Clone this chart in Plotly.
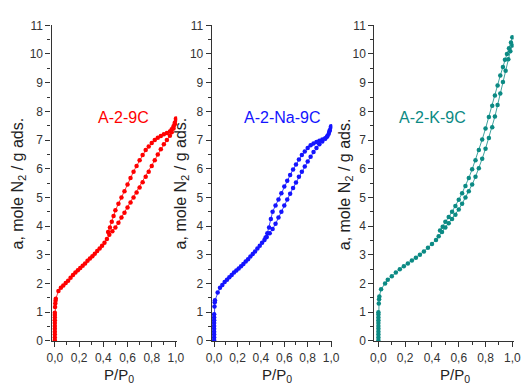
import plotly.graph_objects as go

# ---------------- data ----------------
samples = ["A-2-9C", "A-2-Na-9C", "A-2-K-9C"]
colors = ["#ff0000", "#1414ff", "#0b8a84"]

# A-2-9C
ads1_x = [0, 0, 0, 0, 0, 0, 0, 0, 0, 0, 0, 0.002, 0.004, 0.006, 0.008, 0.03, 0.05, 0.07, 0.09, 0.11,
          0.13, 0.15, 0.17, 0.19, 0.21, 0.23, 0.25, 0.27, 0.29, 0.31, 0.33, 0.35, 0.37, 0.39, 0.41, 0.43,
          0.45, 0.475, 0.5, 0.525, 0.55, 0.575, 0.6, 0.625, 0.65, 0.675, 0.7, 0.725, 0.75, 0.775, 0.8,
          0.825, 0.85, 0.875, 0.9, 0.925, 0.95, 0.965, 0.98, 0.99, 1.0]
ads1_y = [0.02, 0.12, 0.22, 0.32, 0.42, 0.52, 0.62, 0.72, 0.82, 0.9, 0.98, 1.18, 1.3, 1.4, 1.47, 1.74,
          1.85, 1.93, 2.02, 2.1, 2.2, 2.3, 2.38, 2.46, 2.54, 2.62, 2.7, 2.79, 2.87, 2.95, 3.04, 3.13,
          3.22, 3.32, 3.42, 3.55, 3.7, 3.82, 3.95, 4.12, 4.3, 4.47, 4.65, 4.82, 5.0, 5.17, 5.35, 5.53,
          5.72, 5.9, 6.1, 6.3, 6.5, 6.68, 6.85, 7.0, 7.15, 7.27, 7.4, 7.55, 7.7]
des1_x = [1.0, 0.99, 0.98, 0.965, 0.95, 0.925, 0.9, 0.875, 0.85, 0.825, 0.8, 0.775, 0.75, 0.725, 0.7,
          0.675, 0.65, 0.625, 0.6, 0.575, 0.55, 0.525, 0.5, 0.485, 0.47, 0.455, 0.44]
des1_y = [7.75, 7.6, 7.48, 7.38, 7.3, 7.25, 7.2, 7.14, 7.08, 7.0, 6.9, 6.78, 6.65, 6.48, 6.3, 6.1, 5.9,
          5.68, 5.45, 5.22, 5.0, 4.78, 4.55, 4.35, 4.15, 3.95, 3.8]

# A-2-Na-9C
ads2_x = [0, 0, 0, 0, 0, 0, 0, 0, 0, 0, 0.003, 0.005, 0.007, 0.03, 0.05, 0.07, 0.09, 0.11, 0.13, 0.15,
          0.17, 0.19, 0.21, 0.23, 0.25, 0.27, 0.29, 0.31, 0.33, 0.35, 0.37, 0.39, 0.41, 0.43, 0.45,
          0.475, 0.5, 0.525, 0.55, 0.575, 0.6, 0.625, 0.65, 0.675, 0.7, 0.725, 0.75, 0.775, 0.8, 0.825,
          0.85, 0.875, 0.9, 0.925, 0.95, 0.97, 0.985, 1.0]
ads2_y = [0.02, 0.12, 0.22, 0.32, 0.42, 0.52, 0.62, 0.72, 0.82, 0.93, 1.2, 1.35, 1.42, 1.69, 1.85, 1.95,
          2.05, 2.13, 2.22, 2.3, 2.38, 2.45, 2.52, 2.6, 2.68, 2.77, 2.85, 2.94, 3.03, 3.12, 3.22, 3.32,
          3.42, 3.52, 3.62, 3.75, 3.9, 4.08, 4.3, 4.5, 4.72, 4.93, 5.13, 5.33, 5.52, 5.72, 5.9, 6.08,
          6.25, 6.42, 6.58, 6.72, 6.85, 6.95, 7.05, 7.15, 7.3, 7.45]
des2_x = [1.0, 0.99, 0.98, 0.965, 0.95, 0.925, 0.9, 0.875, 0.85, 0.825, 0.8, 0.775, 0.75, 0.725, 0.7,
          0.675, 0.65, 0.625, 0.6, 0.575, 0.55, 0.525, 0.5, 0.485, 0.47, 0.455, 0.44]
des2_y = [7.48, 7.35, 7.22, 7.12, 7.06, 7.02, 6.98, 6.93, 6.88, 6.82, 6.72, 6.6, 6.48, 6.32, 6.15, 5.97,
          5.78, 5.58, 5.38, 5.15, 4.93, 4.72, 4.5, 4.25, 3.95, 3.75, 3.6]

# A-2-K-9C
ads3_x = [0, 0, 0, 0, 0, 0, 0, 0, 0, 0, 0, 0.003, 0.005, 0.007, 0.02, 0.05, 0.07, 0.1, 0.13, 0.16, 0.19,
          0.22, 0.25, 0.28, 0.31, 0.34, 0.37, 0.4, 0.43, 0.45, 0.475, 0.5, 0.525, 0.55, 0.575, 0.6,
          0.625, 0.65, 0.675, 0.7, 0.725, 0.75, 0.775, 0.8, 0.825, 0.85, 0.87, 0.89, 0.91, 0.93, 0.95,
          0.97, 0.985, 1.0]
ads3_y = [0.02, 0.12, 0.22, 0.32, 0.42, 0.52, 0.62, 0.72, 0.82, 0.92, 1.0, 1.3, 1.45, 1.55, 1.8, 2.0,
          2.13, 2.25, 2.38, 2.5, 2.6, 2.7, 2.8, 2.9, 3.0, 3.12, 3.25, 3.38, 3.52, 3.65, 3.8, 3.95, 4.1,
          4.25, 4.4, 4.58, 4.78, 5.0, 5.22, 5.45, 5.72, 6.02, 6.35, 6.7, 7.07, 7.45, 7.82, 8.22, 8.62,
          9.02, 9.42, 9.82, 10.1, 10.3]
des3_x = [1.0, 0.99, 0.975, 0.96, 0.945, 0.93, 0.91, 0.89, 0.87, 0.85, 0.825, 0.8, 0.775, 0.75, 0.725,
          0.7, 0.675, 0.65, 0.625, 0.6, 0.575, 0.55, 0.525, 0.5, 0.48, 0.46]
des3_y = [10.58, 10.4, 10.2, 10.0, 9.8, 9.55, 9.25, 8.9, 8.55, 8.2, 7.8, 7.4, 7.02, 6.65, 6.3, 5.98,
          5.68, 5.4, 5.15, 4.92, 4.7, 4.5, 4.32, 4.15, 3.98, 3.85]

ads_x = [ads1_x, ads2_x, ads3_x]
ads_y = [ads1_y, ads2_y, ads3_y]
des_x = [des1_x, des2_x, des3_x]
des_y = [des1_y, des2_y, des3_y]

y_ticks = list(range(0, 12))
x_ticks = [0.0, 0.2, 0.4, 0.6, 0.8, 1.0]

# ---------------- layout geometry ----------------
W, H = 527, 385
x_domains = [(46.7, 175.5), (211.0, 334.5), (377.7, 520.5)]
x_ranges = [(-0.027, 1.01), (-0.02, 1.01), (-0.03, 1.01)]
y_dom = (1 - 346.5 / H, 1 - 19.0 / H)
ytitle_x = [13, 180, 348]
xtitle_left = [98, 260, 443]
label_cx = [120, 282.7, 437.5]

fig = go.Figure()
font_fam = "Liberation Sans, Arial, sans-serif"
axis_col = "#333333"

for i in range(3):
    sfx = "" if i == 0 else str(i + 1)
    for xs, ys in ((ads_x[i], ads_y[i]), (des_x[i], des_y[i])):
        fig.add_trace(go.Scatter(
            x=xs, y=ys, mode="lines+markers",
            xaxis="x" + sfx, yaxis="y" + sfx,
            line=dict(color=colors[i], width=0.8),
            marker=dict(color=colors[i], size=4.5, line=dict(width=0)),
            showlegend=False, hoverinfo="skip",
        ))
    common = dict(showline=True, linecolor=axis_col, linewidth=1.3, ticks="outside",
                  tickcolor=axis_col, tickwidth=1, ticklen=5, showgrid=False, zeroline=False,
                  tickfont=dict(family=font_fam, size=12, color=axis_col))
    fig.layout["xaxis" + sfx] = dict(
        domain=[x_domains[i][0] / W, x_domains[i][1] / W], range=list(x_ranges[i]),
        anchor="y" + sfx, tickvals=x_ticks, tickformat=".1f", ticklabelstandoff=1,
        minor=dict(ticks="outside", ticklen=3, dtick=0.1, tick0=0, tickcolor=axis_col),
        **common)
    fig.layout["yaxis" + sfx] = dict(
        domain=list(y_dom), range=[0, 11], anchor="x" + sfx, tickvals=y_ticks,
        minor=dict(ticks="outside", ticklen=3, dtick=0.5, tick0=0, tickcolor=axis_col),
        **common)
    fig.add_annotation(
        text="a, mole N<sub>2</sub> / g ads.", textangle=-90, xref="paper", yref="paper",
        x=ytitle_x[i] / W, y=1 - 183.5 / H, xanchor="center", yanchor="middle", showarrow=False,
        font=dict(family=font_fam, size=16, color="#222222"))
    fig.add_annotation(
        text="P/P<sub>0</sub>", xref="paper", yref="paper",
        x=xtitle_left[i] / W, y=1 - 370 / H, xanchor="left", yanchor="top", showarrow=False,
        font=dict(family=font_fam, size=15, color="#222222"))
    fig.add_annotation(
        text=samples[i], xref="paper", yref="paper",
        x=label_cx[i] / W, y=1 - 115 / H, xanchor="center", yanchor="middle", showarrow=False,
        font=dict(family=font_fam, size=16, color=colors[i]))

fig.update_layout(
    width=W, height=H, margin=dict(l=0, r=0, t=0, b=0),
    paper_bgcolor="white", plot_bgcolor="white", separators=", ",
)

fig.write_html("out.html")
